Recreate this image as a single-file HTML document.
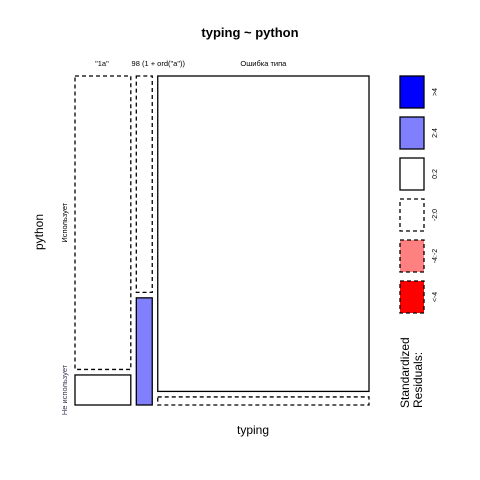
<!DOCTYPE html>
<html><head><meta charset="utf-8"><style>
body{margin:0;background:#fff}
svg{display:block;font-family:"Liberation Sans",sans-serif}
</style></head><body>
<svg width="480" height="480" xmlns="http://www.w3.org/2000/svg">
<rect width="480" height="480" fill="#fff"/>
<text x="250" y="37" font-size="13" font-weight="bold" text-anchor="middle">typing ~ python</text>
<text x="253" y="434" font-size="12" text-anchor="middle">typing</text>
<text transform="translate(43,232) rotate(-90)" font-size="12" text-anchor="middle">python</text>
<g id="mosaic"></g>
<g id="legend"></g>
<text transform="translate(409,408) rotate(-90)" font-size="12">Standardized</text>
<text transform="translate(422,408) rotate(-90)" font-size="12">Residuals:</text>
</svg>
<script>
const categories = ['"1a"', '98 (1 + ord("a"))', 'Ошибка типа'];
const rowLabels = ['Использует', 'Не использует'];
const usesCounts = [50.8, 10.7, 206.7];
const notUsesCounts = [5.2, 5.3, 5.3];
const usesShade = ['dash', 'dash', 'solid'];
const notUsesShade = ['solid', 'blue', 'dash'];
const legendLabels = ['>4', '2:4', '0:2', '-2:0', '-4:-2', '<-4'];
const legendShades = ['blue2', 'blue', 'solid', 'dash', 'red', 'red2'];

const NS = 'http://www.w3.org/2000/svg';
const X0 = 75, X1 = 369, Y0 = 76, Y1 = 405, GAP = 5.5;
function style(r, s) {
  const m = {solid:['#fff',null], dash:['#fff','4,3'], blue:['#8080ff',null], blue2:['#0000ff',null], red:['#ff8080','4,3'], red2:['#ff0000','4,3']}[s];
  r.setAttribute('fill', m[0]); r.setAttribute('stroke', '#000'); r.setAttribute('stroke-width', '1.3');
  if (m[1]) r.setAttribute('stroke-dasharray', m[1]);
}
const g = document.getElementById('mosaic');
const totals = usesCounts.map((u, i) => u + notUsesCounts[i]);
const grand = totals.reduce((a, b) => a + b, 0);
const wAvail = (X1 - X0) - GAP * (categories.length - 1);
const hAvail = (Y1 - Y0) - GAP;
let x = X0;
totals.forEach((t, i) => {
  const w = t / grand * wAvail;
  const hu = usesCounts[i] / t * hAvail;
  const hn = notUsesCounts[i] / t * hAvail;
  const r1 = document.createElementNS(NS, 'rect');
  r1.setAttribute('x', x); r1.setAttribute('y', Y0); r1.setAttribute('width', w); r1.setAttribute('height', hu);
  style(r1, usesShade[i]);
  
  
  g.appendChild(r1);
  const r2 = document.createElementNS(NS, 'rect');
  r2.setAttribute('x', x); r2.setAttribute('y', Y1 - hn); r2.setAttribute('width', w); r2.setAttribute('height', hn);
  style(r2, notUsesShade[i]);
  
  
  g.appendChild(r2);
  const tx = document.createElementNS(NS, 'text');
  let cx = x + w / 2; if (i === 0) cx -= 1; if (i === 1) cx += 14;
  tx.setAttribute('x', cx); tx.setAttribute('y', 66); tx.setAttribute('font-size', '7.5'); tx.setAttribute('text-anchor', 'middle');
  tx.textContent = categories[i];
  
  
  g.appendChild(tx);
  if (i === 0) {
    const l1 = document.createElementNS(NS, 'text');
    l1.setAttribute('transform', 'translate(67,' + (Y0 + hu / 2) + ') rotate(-90)');
    l1.setAttribute('font-size', '7.5'); l1.setAttribute('text-anchor', 'middle');
    l1.textContent = rowLabels[0];
    
    
    g.appendChild(l1);
    const l2 = document.createElementNS(NS, 'text');
    l2.setAttribute('transform', 'translate(67,' + (Y1 - hn / 2) + ') rotate(-90)');
    l2.setAttribute('font-size', '7.5'); l2.setAttribute('text-anchor', 'middle'); l2.setAttribute('fill', '#335');
    l2.textContent = rowLabels[1];
    
    
    g.appendChild(l2);
  }
  x += w + GAP;
});
const lg = document.getElementById('legend');
legendLabels.forEach((lab, i) => {
  const y = 76 + i * 41;
  const r = document.createElementNS(NS, 'rect');
  r.setAttribute('x', 400); r.setAttribute('y', y); r.setAttribute('width', 24); r.setAttribute('height', 32);
  style(r, legendShades[i]);
  
  
  lg.appendChild(r);
  const t = document.createElementNS(NS, 'text');
  t.setAttribute('transform', 'translate(437,' + (y + 16) + ') rotate(-90)');
  t.setAttribute('font-size', '7'); t.setAttribute('text-anchor', 'middle');
  t.textContent = lab;
  
  
  lg.appendChild(t);
});
</script>
</body></html>
